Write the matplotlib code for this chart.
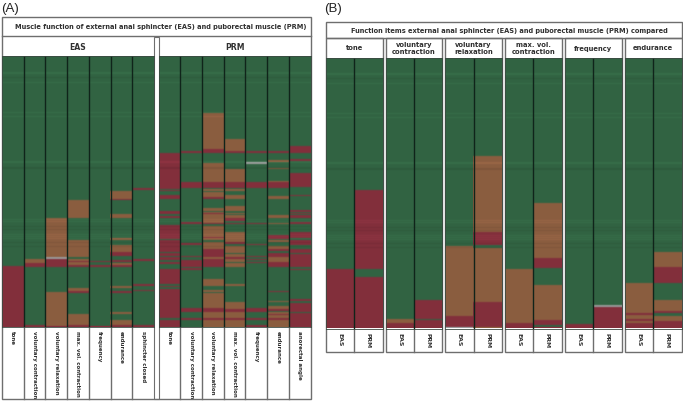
import numpy as np
import matplotlib
matplotlib.use("Agg")
import matplotlib.pyplot as plt

W, H = 683, 402
N_ROWS = 271

# Each column: runs of grade, the number is the last row of that run
# G normal, B moderately impaired, R severely impaired, X missing
eas_labels = ["tone", "voluntary contraction", "voluntary relaxation", "max. vol. contraction",
              "frequency", "endurance", "sphincter closed"]
eas_runs = [
    "G210 R271",
    "G203 B207 R211 G269 R271",
    "G162 B201 X203 R211 G236 B270 R271",
    "G144 B162 G184 B201 G203 B205 R206 B209 R211 G232 B235 R237 G258 B269 R271",
    "G205 R206 G209 R211 G270 R271",
    "G135 B143 R144 G158 B162 G182 B184 G189 B196 R200 G204 R206 G207 B209 R211 G230 B232 G235 R237 G256 B258 G264 B269 R271",
    "G132 R134 G203 R205 G228 R230 G234 R235 G269 R271",
]
prm_labels = ["tone", "voluntary contraction", "voluntary relaxation", "max. vol. contraction",
              "frequency", "endurance", "anorectal angle"]
prm_runs = [
    "G97 R133 G134 R135 G139 R143 G155 R158 G160 R162 G169 R183 G184 R196 G197 R200 G201 R204 G206 R208 G213 R228 G230 R231 G233 R262 G264 R271",
    "G95 R97 G126 R132 G166 R168 G187 R189 G200 R201 G204 R211 G212 R214 G252 R256 G262 R264 G271",
    "G57 B93 R97 G107 B126 R132 G133 B135 G136 B141 R143 G152 B155 G156 B157 R158 B167 R168 G170 B181 R182 B184 G186 B193 R197 R201 B203 R211 G223 B230 G234 B236 G237 B252 R256 B262 R264 B271",
    "G83 B95 R97 G113 B126 R132 G133 B135 G139 B143 G150 B155 G157 B158 G159 B162 R165 G167 R168 G176 B186 R188 G190 B197 G198 B201 R203 B206 G207 B211 G228 B230 G246 B253 R256 B262 R264 B271",
    "G95 R97 G106 X108 G126 R132 G167 R168 G188 R189 G200 R201 G203 R204 G206 R207 G252 R256 G262 R264 G269 R271",
    "G95 R97 G104 B106 G112 B113 G125 B126 R132 G140 B143 G159 B162 G167 B168 G179 R183 G184 B186 G190 B193 R195 G197 R201 B206 R211 G235 R236 G245 B246 G250 B253 R255 G256 B258 R259 B262 R264 B271",
    "G90 R97 G103 R105 G117 R131 G139 R140 G154 R156 G157 R158 G159 R162 G166 R168 G176 R182 G184 R189 G193 R197 G198 R211 G213 R214 G243 R245 G247 R256 G257 R271",
]
item_labels = ["tone", "voluntary\ncontraction", "voluntary\nrelaxation", "max. vol.\ncontraction",
               "frequency", "endurance"]
muscle_labels = ["EAS", "PRM"]
item_runs = [
    ["G212 R271", "G133 R212 G220 R271"],
    ["G262 B266 R271", "G243 R262 G263 R271"],
    ["G189 B259 R270 X271", "G99 B175 R188 G191 B245 R270 B271"],
    ["G212 B266 R271", "G146 B201 R211 G228 B263 R268 G270 R271"],
    ["G267 R271", "G248 X250 R271"],
    ["G226 B256 R258 B262 R264 B266 R271", "G195 B210 R226 G243 B254 R256 G259 B264 R271"],
]
light_rows = [16, 17, 26, 56, 60, 105, 106, 163, 165, 178, 180, 182]
dark_rows = [21, 111, 112, 170, 173, 186, 190]

COLORS = {"G": (0.195, 0.390, 0.260), "B": (0.545, 0.365, 0.250),
          "R": (0.510, 0.185, 0.235), "X": (0.60, 0.60, 0.60)}
EDGE = "#6e6e6e"
INK = "#303030"
BOLD = dict(family="DejaVu Sans", fontweight="bold", color=INK)


def parse(runs):
    col = []
    start = 0
    for tok in runs.split():
        end = int(tok[1:])
        col += [COLORS[tok[0]]] * (end - start)
        start = end
    return col


def matrix(columns):
    m = np.array([parse(c) for c in columns]).transpose(1, 0, 2)
    shade = np.ones(N_ROWS)
    shade[light_rows] = 1.10
    shade[dark_rows] = 0.91
    m = m * shade[:, None, None]
    # slight blur between neighbouring rows, as in the scaled-down original
    blurred = m.copy()
    blurred[1:-1] = 0.2 * m[:-2] + 0.6 * m[1:-1] + 0.2 * m[2:]
    return np.clip(blurred, 0, 1)


fig = plt.figure(figsize=(W / 100, H / 100), dpi=100, facecolor="white")
canvas = fig.add_axes([0, 0, 1, 1])
canvas.set_xlim(0, W)
canvas.set_ylim(H, 0)
canvas.axis("off")


def box(x0, y0, x1, y1, lw=1.0, color=EDGE):
    canvas.add_patch(plt.Rectangle((x0, y0), x1 - x0, y1 - y0, fill=False, ec=color, lw=lw, zorder=5))


def heat(x0, x1, y0, y1, columns):
    ax = fig.add_axes([x0 / W, 1 - y1 / H, (x1 - x0) / W, (y1 - y0) / H], zorder=3)
    ax.imshow(matrix(columns), aspect="auto", interpolation="nearest",
              extent=(0, len(columns), N_ROWS, 0))
    for i in range(1, len(columns)):
        ax.axvline(i, color="#10241a", lw=1.0)
    ax.set_xticks([])
    ax.set_yticks([])
    for s in ax.spines.values():
        s.set_color("#3c4a42")
        s.set_linewidth(0.6)
    return ax


# ---------- Panel A ----------
canvas.text(1, 9, "(A)", family="Liberation Sans", fontsize=9.5, color="#222222", va="center", ha="left")
canvas.text(161, 27.5, "Muscle function of external anal sphincter (EAS) and puborectal muscle (PRM)",
            ha="center", va="center", fontsize=4.8, **BOLD)
box(1.5, 17.5, 311, 400)
canvas.plot([1.5, 311], [37, 37], color=EDGE, lw=1)

groups_a = [(2, 154, "EAS", eas_labels, eas_runs), (158.5, 310.5, "PRM", prm_labels, prm_runs)]
top_a, bot_a = 57, 328
for x0, x1, name, labels, runs in groups_a:
    canvas.text((x0 + x1) / 2, 47, name, ha="center", va="center", fontsize=5.6, **BOLD)
    heat(x0, x1, top_a, bot_a, runs)
    cw = (x1 - x0) / len(labels)
    for i, lab in enumerate(labels):
        canvas.text(x0 + (i + .5) * cw, bot_a + 3, lab, rotation=270, ha="center", va="top", fontsize=3.95, **BOLD)
        if i:
            canvas.plot([x0 + i * cw] * 2, [bot_a, 400], color=EDGE, lw=1)
canvas.add_patch(plt.Rectangle((154, 37.5), 4.5, 362, fc="white", ec=EDGE, lw=0.8, zorder=4))

# ---------- Panel B ----------
canvas.text(324, 9, "(B)", family="Liberation Sans", fontsize=9.5, color="#222222", va="center", ha="left")
canvas.text(509, 31, "Function items external anal sphincter (EAS) and puborectal muscle (PRM) compared",
            ha="center", va="center", fontsize=4.75, **BOLD)
box(325.5, 23, 682, 39)
groups_b = [(326, 382.5), (385.5, 442), (445, 502), (505, 561.5), (564.5, 621.5), (624.5, 681.5)]
top_b, bot_b = 58.5, 329.5
for (x0, x1), name, runs in zip(groups_b, item_labels, item_runs):
    box(x0, 39, x1, 352.5)
    canvas.text((x0 + x1) / 2, 48.5, name, ha="center", va="center", fontsize=4.9, linespacing=1.15, **BOLD)
    heat(x0, x1, top_b, bot_b, runs)
    mid = (x0 + x1) / 2
    canvas.plot([mid, mid], [bot_b, 352.5], color=EDGE, lw=1)
    for k, m in enumerate(muscle_labels):
        canvas.text(x0 + (x1 - x0) * (k + .5) / 2, bot_b + 3.5, m, rotation=270, ha="center", va="top",
                    fontsize=4.4, **BOLD)

fig.savefig("out.png", dpi=100)
